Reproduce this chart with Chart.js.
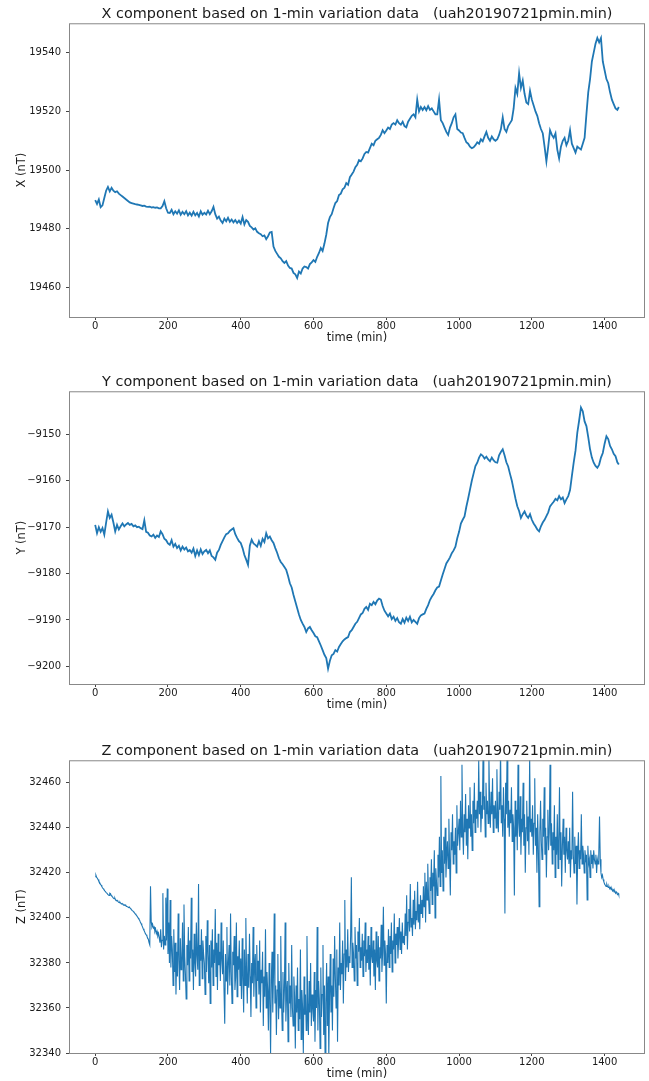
<!DOCTYPE html>
<html>
<head>
<meta charset="utf-8">
<script src="https://cdn.jsdelivr.net/npm/chart.js@4"></script>
<style>
  body { margin: 0; background: #fff; overflow: hidden; }
  canvas { position: absolute; left: 0; }
</style>
</head>
<body>
<canvas id="chartX" width="649" height="350" style="top:0px"></canvas>
<canvas id="chartY" width="649" height="349" style="top:368px"></canvas>
<canvas id="chartZ" width="649" height="344" style="top:737px"></canvas>
<script>
const xComponent = [
  19489.8, 19488.5, 19490, 19487.4, 19488, 19490.5, 19493, 19494.3, 19492.8, 19494,
  19493, 19492.5, 19492.8, 19492, 19491.5, 19491, 19490.5, 19490, 19489.5, 19489,
  19488.8, 19488.6, 19488.4, 19488.3, 19488.2, 19488, 19487.8, 19487.9, 19487.6, 19487.5,
  19487.6, 19487.3, 19487.4, 19487.2, 19487.3, 19487, 19487, 19487.8, 19489.4, 19487,
  19485.5, 19485.4, 19486.5, 19485, 19486, 19485.2, 19486.3, 19484.8, 19485.8, 19485,
  19486, 19484.6, 19485.5, 19484.5, 19485.8, 19484.6, 19485.4, 19484.2, 19486, 19484.8,
  19485.5, 19484.9, 19486.2, 19485, 19486, 19487.5, 19485, 19483.5, 19484.2, 19482.8,
  19482, 19483.5, 19482.6, 19483.8, 19482.4, 19483.2, 19482.2, 19483, 19482, 19482.8,
  19481.8, 19484, 19481.5, 19483, 19482.4, 19481, 19480.5, 19479.8, 19480.2, 19479,
  19478.5, 19478.2, 19477.5, 19477.8, 19476.5, 19477.5, 19478.8, 19479, 19474, 19472.5,
  19471.5, 19470.5, 19470, 19469, 19468.4, 19469, 19467.5, 19466.7, 19466.5, 19465,
  19464.5, 19463.3, 19465.5, 19464.8, 19466.5, 19467.2, 19467, 19466.5, 19468, 19468.6,
  19469.4, 19468.8, 19470.5, 19471.8, 19473.5, 19472.5, 19475, 19478, 19482, 19484,
  19485, 19487, 19488.8, 19489.5, 19491.5, 19492, 19493.5, 19494, 19495.6, 19495,
  19497.6, 19498.5, 19499.5, 19501, 19501.8, 19503.4, 19503, 19504, 19505.5, 19506.2,
  19506, 19507.5, 19509, 19508.5, 19510, 19510.5, 19511, 19512, 19513.6, 19512.6,
  19513.5, 19514.5, 19514, 19515.5, 19516, 19515.5, 19517, 19516, 19515.5, 19516.5,
  19515, 19514.6, 19516.5, 19517.5, 19518.5, 19519, 19518, 19524, 19520, 19521.5,
  19520.5, 19521.5, 19520.4, 19521.8, 19520.5, 19521, 19520, 19519, 19519, 19524,
  19517, 19516, 19514.5, 19513, 19512, 19514.5, 19516, 19518, 19519, 19514,
  19513.5, 19512.8, 19512.6, 19511, 19509.5, 19509, 19508, 19507.5, 19507.8, 19508.5,
  19509.5, 19509, 19510.5, 19509.8, 19511.5, 19513, 19511, 19510, 19511.5, 19510.5,
  19510, 19510.5, 19512, 19514, 19518, 19514, 19513, 19515, 19516, 19517,
  19521, 19528, 19526, 19533, 19528, 19530.5, 19526, 19523, 19522.5, 19527,
  19524, 19522, 19520, 19518.5, 19516, 19514, 19512.6, 19508, 19503, 19508,
  19513.6, 19512, 19511, 19512.5, 19507, 19504, 19508, 19510, 19511, 19508.5,
  19510, 19513.6, 19509, 19507.5, 19506, 19508, 19507.5, 19507, 19509, 19511,
  19519, 19526.5, 19531, 19537, 19540, 19543, 19545, 19543.5, 19545, 19537,
  19534, 19531, 19529.6, 19526.5, 19524, 19522.5, 19521, 19520.5, 19521.5
];

const yComponent = [
  -9169.5, -9171.3, -9170, -9171, -9170.2, -9171.6, -9169, -9166.6, -9168, -9167.3,
  -9169, -9170.9, -9169.5, -9170.5, -9169.8, -9169.2, -9169.8, -9169.4, -9169.1, -9169.5,
  -9169.3, -9169.8, -9169.6, -9170, -9169.9, -9170.2, -9170.4, -9168.5, -9171, -9171.2,
  -9171.8, -9172, -9171.6, -9172.3, -9171.8, -9172.1, -9170.9, -9171.5, -9172.5, -9172.8,
  -9173.5, -9173.8, -9172.8, -9174.2, -9173.6, -9174.5, -9174, -9175, -9174.2, -9174.8,
  -9174.4, -9175.2, -9174.9, -9175.5, -9174.6, -9176.2, -9175, -9176, -9174.8, -9175.8,
  -9175.2, -9174.9, -9175.6, -9175, -9176.2, -9176.5, -9177, -9175.5, -9174.9, -9173.8,
  -9173, -9172.2, -9171.5, -9171.3, -9170.8, -9170.5, -9170.2, -9171.5, -9172.3, -9173,
  -9173.4, -9174.5, -9176, -9177, -9178.1, -9174, -9172.7, -9173.5, -9173.8, -9174.2,
  -9173, -9174, -9172.5, -9173.2, -9171.3, -9172.4, -9172, -9172.8, -9173.4, -9174.5,
  -9175.5, -9176.7, -9177.5, -9178, -9178.6, -9179.2, -9180.5, -9182.1, -9183, -9184.6,
  -9186, -9187.4, -9188.8, -9190, -9190.8, -9191.5, -9192.6, -9191.8, -9191.5, -9192.2,
  -9192.8, -9193.5, -9193.7, -9194.6, -9195.5, -9196.5, -9197.5, -9198.2, -9200.5, -9198.8,
  -9197.6, -9197.3, -9196.5, -9196.8, -9195.8, -9195.2, -9194.6, -9194.2, -9193.9, -9193.7,
  -9192.6, -9192.2, -9191.5, -9190.8, -9190.4, -9189.6, -9188.8, -9188.5, -9187.6, -9187.2,
  -9187.8, -9186.5, -9186.8, -9186.1, -9186.6, -9185.8, -9185.4, -9185.6, -9187, -9188,
  -9188.6, -9189.2, -9188.6, -9189.8, -9189.3, -9190.2, -9189.6, -9190.5, -9190.8, -9189.8,
  -9190.6, -9189.5, -9190.2, -9189.3, -9190.5, -9190, -9190.4, -9190.8, -9189.6, -9189,
  -9188.8, -9188.6, -9187.6, -9186.8, -9185.7, -9185, -9184.4, -9183.6, -9183, -9182.8,
  -9181.5, -9180.2, -9179, -9177.8, -9177.2, -9176.5, -9175.6, -9175, -9174.2, -9172.4,
  -9171, -9169.2, -9168.4, -9167.7, -9165.6, -9163.8, -9161.9, -9160, -9158.4, -9156.8,
  -9156.1, -9155, -9154.3, -9154.6, -9155.2, -9154.8, -9155.4, -9155.8, -9155, -9155.6,
  -9156, -9156.1, -9154.5, -9153.8, -9153.2, -9154.5, -9156, -9156.9, -9158.5, -9160,
  -9161.9, -9163.8, -9165.5, -9166.5, -9168, -9167.2, -9166.6, -9167.5, -9168, -9167.2,
  -9168.4, -9169.2, -9169.8, -9170.5, -9170.9, -9169.8, -9169, -9168.4, -9167.6, -9166.8,
  -9165.5, -9165, -9164.5, -9163.9, -9164.2, -9163.3, -9164, -9163.6, -9164.8, -9164,
  -9163.3, -9162, -9159, -9156.1, -9153.5, -9149.6, -9147, -9144.2, -9145, -9147.2,
  -9148.2, -9150.6, -9153.2, -9155, -9156.1, -9156.8, -9157.2, -9156.5, -9155, -9154,
  -9152, -9150.4, -9151, -9152.5, -9153.2, -9154.2, -9154.7, -9156, -9156.5
];

const zComponent = [
  32418.3, 32419, 32418, 32417.6, 32417, 32416.2, 32415.8, 32415, 32414.6, 32414, 32413.4, 32413, 32412.6, 32412, 32411.8, 32411.2, 32411, 32410.6, 32410.2, 32410, 32411, 32410.8, 32410, 32409.6, 32409.2,
  32408.8, 32408.5, 32408.8, 32408, 32407.6, 32407.8, 32407.4, 32407, 32406.8, 32407, 32406.5, 32406.2, 32406.4, 32406, 32405.8, 32405.6, 32405.8, 32405.4, 32405.2, 32405, 32405, 32404.6, 32404.8, 32404.3, 32404,
  32403.6, 32403.2, 32403, 32402.6, 32402.2, 32401.8, 32401.4, 32401, 32400.5, 32400, 32399.5, 32399, 32398.2, 32397.5, 32396.8, 32396, 32395.2, 32394.5, 32393.8, 32393, 32392.5, 32392, 32391, 32390.5, 32389,
  32388, 32414, 32398, 32396, 32397, 32395.5, 32396, 32394, 32395, 32393, 32394, 32392, 32393, 32391, 32389, 32395, 32387, 32390, 32411, 32386, 32392, 32388, 32409, 32390, 32413,
  32384, 32398, 32380, 32408, 32378, 32392, 32386, 32370, 32395, 32376, 32389, 32366, 32385, 32374, 32402, 32381, 32368, 32391, 32377, 32380, 32398, 32372, 32406, 32383, 32375,
  32364, 32388, 32379, 32396, 32372, 32390, 32382, 32409, 32376, 32386, 32368, 32393, 32380, 32374, 32398, 32383, 32377, 32415, 32370, 32388, 32381, 32395, 32373, 32390, 32384,
  32380, 32366, 32392, 32376, 32399, 32384, 32371, 32388, 32362, 32390, 32378, 32395, 32370, 32386, 32380, 32404, 32374, 32389, 32368, 32393, 32379, 32385, 32372, 32398, 32381,
  32375, 32390, 32368, 32353, 32384, 32372, 32396, 32366, 32380, 32388, 32370, 32402, 32376, 32362, 32385, 32379, 32392, 32368, 32374, 32398, 32365, 32383, 32377, 32390, 32370,
  32382, 32364, 32391, 32373, 32358, 32386, 32370, 32400, 32376, 32362, 32384, 32369, 32393, 32374, 32356, 32380, 32371, 32396, 32365, 32378, 32384, 32360, 32388, 32372, 32381,
  32366, 32390, 32358, 32377, 32371, 32385, 32352, 32374, 32365, 32395, 32360, 32376, 32368, 32350, 32380, 32364, 32340, 32372, 32385, 32358, 32375, 32402, 32362, 32370, 32348,
  32368, 32384, 32355, 32372, 32360, 32392, 32364, 32350, 32376, 32358, 32368, 32398, 32354, 32366, 32372, 32345, 32380, 32362, 32370, 32356, 32388, 32360, 32352, 32374, 32365,
  32342, 32370, 32358, 32378, 32350, 32364, 32355, 32386, 32346, 32368, 32360, 32340, 32374, 32357, 32366, 32350, 32392, 32362, 32348, 32372, 32358, 32380, 32352, 32366, 32360,
  32354, 32376, 32345, 32368, 32360, 32396, 32350, 32372, 32364, 32342, 32378, 32356, 32366, 32388, 32348, 32370, 32335, 32362, 32380, 32352, 32374, 32338, 32365, 32384, 32358,
  32370, 32350, 32382, 32365, 32392, 32374, 32360, 32386, 32345, 32378, 32370, 32398, 32368, 32380, 32375, 32390, 32362, 32384, 32408, 32372, 32386, 32378, 32395, 32376, 32383,
  32380, 32392, 32418, 32378, 32389, 32384, 32372, 32396, 32382, 32388, 32370, 32394, 32385, 32400, 32378, 32387, 32381, 32393, 32374, 32390, 32383, 32398, 32376, 32386, 32380,
  32392, 32377, 32388, 32370, 32396, 32383, 32380, 32390, 32374, 32386, 32368, 32394, 32381, 32378, 32392, 32372, 32387, 32382, 32397, 32376, 32385, 32405, 32379, 32390, 32384,
  32362, 32388, 32380, 32395, 32378, 32392, 32384, 32398, 32376, 32390, 32386, 32402, 32380, 32393, 32388, 32396, 32382, 32390, 32400, 32386, 32394, 32384, 32398, 32389, 32392,
  32388, 32402, 32392, 32410, 32386, 32398, 32404, 32394, 32415, 32396, 32400, 32392, 32408, 32397, 32412, 32395, 32403, 32399, 32416, 32398, 32406, 32395, 32410, 32402, 32408,
  32400, 32414, 32405, 32420, 32398, 32416, 32408, 32424, 32410, 32402, 32418, 32412, 32426, 32406, 32420, 32414, 32430, 32400, 32422, 32416, 32410, 32428, 32418, 32436, 32414,
  32463, 32420, 32430, 32412, 32436, 32424, 32440, 32418, 32428, 32434, 32422, 32444, 32426, 32410, 32438, 32430, 32446, 32424, 32434, 32428, 32440, 32420, 32450, 32432, 32438,
  32444, 32430, 32452, 32436, 32468, 32440, 32428, 32446, 32438, 32455, 32432, 32444, 32426, 32450, 32440, 32458, 32436, 32446, 32430, 32452, 32442, 32460, 32438, 32448, 32444,
  32452, 32440, 32470, 32446, 32456, 32438, 32450, 32444, 32475, 32448, 32454, 32436, 32460, 32446, 32452, 32442, 32472, 32450, 32440, 32456, 32446, 32462, 32438, 32450, 32444,
  32452, 32440, 32466, 32446, 32438, 32456, 32448, 32475, 32442, 32450, 32436, 32458, 32444, 32402, 32460, 32446, 32474, 32440, 32452, 32436, 32448, 32442, 32458, 32434, 32446,
  32440, 32410, 32452, 32436, 32448, 32430, 32468, 32442, 32436, 32454, 32428, 32444, 32438, 32460, 32432, 32446, 32420, 32440, 32452, 32434, 32445, 32428, 32472, 32438, 32444,
  32436, 32450, 32428, 32442, 32462, 32432, 32440, 32420, 32446, 32430, 32405, 32438, 32452, 32434, 32426, 32444, 32436, 32458, 32428, 32440, 32418, 32436, 32448, 32430, 32438,
  32468, 32432, 32442, 32424, 32438, 32430, 32450, 32418, 32436, 32428, 32446, 32422, 32434, 32458, 32426, 32438, 32414, 32432, 32444, 32428, 32436, 32420, 32440, 32430, 32426,
  32434, 32424, 32440, 32418, 32430, 32426, 32456, 32428, 32420, 32436, 32424, 32432, 32406, 32428, 32438, 32422, 32430, 32426, 32446, 32424, 32432, 32428, 32420, 32430, 32426,
  32428, 32408, 32432, 32424, 32426, 32418, 32430, 32424, 32428, 32422, 32430, 32426, 32424, 32428, 32420, 32426, 32424, 32428, 32445, 32426, 32420, 32418, 32419, 32417, 32416,
  32415, 32414.5, 32414, 32415, 32414, 32413.5, 32414, 32413, 32413.5, 32412.5, 32413, 32412, 32412.5, 32411.5, 32412, 32411, 32411.5, 32410.8, 32410.5, 32410.8, 32410.2
];

const minutes5 = xComponent.map((_, i) => Math.min(i * 5, 1439));
const minutes2 = zComponent.map((_, i) => Math.min(i * 2, 1439));
const timeTicks = [0, 200, 400, 600, 800, 1000, 1200, 1400];
const xTicksNT = [19460, 19480, 19500, 19520, 19540];
const yTicksNT = [-9200, -9190, -9180, -9170, -9160, -9150];
const zTicksNT = [32340, 32360, 32380, 32400, 32420, 32440, 32460];

const FONT = 'DejaVu Sans';
const TEXT = '#1a1a1a';

const frame = {
  id: 'frame',
  afterDraw(chart) {
    const { ctx, chartArea: a } = chart;
    ctx.save();
    ctx.strokeStyle = '#888';
    ctx.lineWidth = 1;
    ctx.strokeRect(a.left + 0.5, a.top + 0.5, a.right - a.left - 1, a.bottom - a.top);
    ctx.restore();
  }
};

function makeChart(id, times, values, opts) {
  return new Chart(document.getElementById(id), {
    type: 'line',
    data: {
      datasets: [{
        data: values.map((v, i) => ({ x: times[i], y: v })),
        borderColor: '#1f77b4',
        borderWidth: opts.lineWidth,
        pointRadius: 0,
        tension: 0
      }]
    },
    options: {
      animation: false,
      responsive: false,
      events: [],
      layout: { padding: { left: 0, right: 4, top: 0, bottom: 0 } },
      plugins: {
        legend: { display: false },
        tooltip: { enabled: false },
        title: {
          display: true,
          text: opts.title,
          fullSize: false,
          color: TEXT,
          font: { family: FONT, size: 14.4, weight: 'normal' },
          padding: { top: 6, bottom: 0 }
        }
      },
      scales: {
        x: {
          type: 'linear',
          min: -72,
          max: 1511,
          afterBuildTicks: s => { s.ticks = timeTicks.map(v => ({ value: v })); },
          afterFit: s => { s.height = opts.xAxisHeight; },
          grid: { drawOnChartArea: false, drawTicks: true, tickLength: 3, color: '#444' },
          border: { display: false },
          ticks: {
            padding: 0, color: TEXT, maxRotation: 0, autoSkip: false,
            font: { family: FONT, size: 10 },
            callback: v => String(v)
          },
          title: {
            display: true, text: 'time (min)', color: TEXT,
            font: { family: FONT, size: 11.5 },
            padding: { top: 0, bottom: opts.xTitlePad }
          }
        },
        y: {
          type: 'linear',
          min: opts.yMin,
          max: opts.yMax,
          afterBuildTicks: s => { s.ticks = opts.yTicks.map(v => ({ value: v })); },
          afterFit: s => { s.width = 69; },
          grid: { drawOnChartArea: false, drawTicks: true, tickLength: 3, color: '#444' },
          border: { display: false },
          ticks: {
            padding: 5, color: TEXT, autoSkip: false,
            font: { family: FONT, size: 10 },
            callback: v => String(v).replace('-', '\u2212')
          },
          title: {
            display: true, text: opts.yLabel, color: TEXT,
            font: { family: FONT, size: 11.5 },
            padding: { top: 15, bottom: 0 }
          }
        }
      }
    },
    plugins: [frame]
  });
}

makeChart('chartX', minutes5, xComponent, {
  title: 'X component based on 1-min variation data   (uah20190721pmin.min)',
  yLabel: 'X (nT)', yMin: 19450, yMax: 19550, yTicks: xTicksNT,
  xAxisHeight: 33, xTitlePad: 5, lineWidth: 1.8
});
makeChart('chartY', minutes5, yComponent, {
  title: 'Y component based on 1-min variation data   (uah20190721pmin.min)',
  yLabel: 'Y (nT)', yMin: -9203.8, yMax: -9140.7, yTicks: yTicksNT,
  xAxisHeight: 33, xTitlePad: 5, lineWidth: 1.8
});
makeChart('chartZ', minutes2, zComponent, {
  title: 'Z component based on 1-min variation data   (uah20190721pmin.min)',
  yLabel: 'Z (nT)', yMin: 32340, yMax: 32470, yTicks: zTicksNT,
  xAxisHeight: 28, xTitlePad: 0, lineWidth: 1.1
});
</script>
</body>
</html>
